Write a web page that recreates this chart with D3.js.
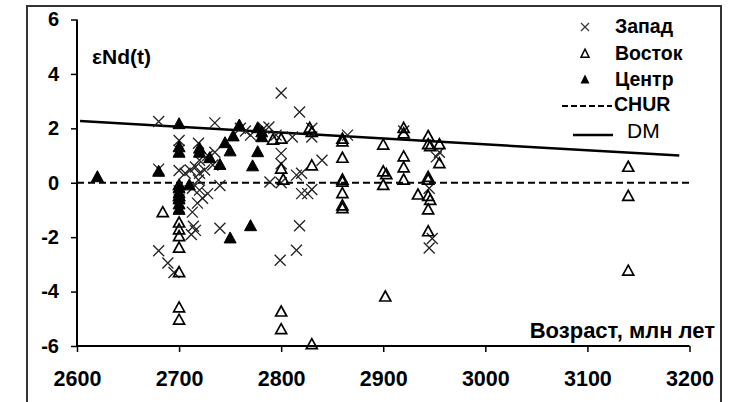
<!DOCTYPE html>
<html><head><meta charset="utf-8">
<script src="https://cdn.jsdelivr.net/npm/d3@7"></script>
<style>
body{margin:0;background:#fff;}
text{font-family:"Liberation Sans",Arial,sans-serif;}
</style></head>
<body>
<svg id="chart" width="729" height="402"></svg>
<script>
// ---- data ----
const xTicks = [2600, 2700, 2800, 2900, 3000, 3100, 3200];
const yTicks = [-6, -4, -2, 0, 2, 4, 6];
const seriesNames = ["Запад", "Восток", "Центр"];
const lineNames = ["CHUR", "DM"];
const zapad = [
 [2680,2.25],[2680,0.5],[2680,-2.5],[2689,-2.95],[2695,-3.3],
 [2700,1.55],[2700,1.2],[2700,0.45],[2700,-0.3],[2700,-0.6],[2700,-0.9],
 [2706,0.35],[2711,0.47],[2713,-0.2],[2716,0.58],[2719,0.1],[2719,1.45],
 [2720,0.35],[2720,0.83],[2720,-0.27],[2723,-0.57],[2725,0.47],[2728,1.0],[2728,-0.4],
 [2733,0.65],[2735,1.12],[2735,2.2],[2740,-0.1],[2718,-0.75],[2713,-1.08],
 [2714,-1.6],[2716,-1.75],[2712,-1.9],[2740,-1.67],
 [2760,2.0],[2765,1.9],[2770,1.75],[2783,2.0],[2788,2.05],[2795,1.75],
 [2800,3.3],[2800,1.08],[2800,0.7],[2789,0.03],[2800,0.0],[2799,-2.85],
 [2811,1.68],[2815,0.28],[2820,0.35],[2815,-2.48],[2818,-1.58],[2818,2.6],
 [2820,-0.4],[2826,-0.4],[2830,-0.25],[2830,1.68],[2830,2.0],[2840,0.83],
 [2865,1.75],[2920,1.9],[2955,1.12],[2952,0.95],[2945,-0.2],[2945,-2.4],[2948,-2.05]
];
const vostok = [
 [2684,-1.1],[2700,-0.1],[2700,-0.5],[2700,-1.48],[2700,-1.73],[2700,-1.98],[2700,-2.4],
 [2700,-3.3],[2700,-4.6],[2700,-5.05],
 [2792,1.57],[2800,1.6],[2800,0.5],[2802,0.1],[2800,-4.75],[2800,-5.4],
 [2828,2.0],[2830,1.85],[2830,0.62],[2830,-5.95],
 [2860,1.6],[2860,1.5],[2860,0.9],[2860,0.1],[2860,0.02],[2860,-0.4],[2860,-0.85],[2860,-0.95],
 [2900,1.38],[2900,0.4],[2903,0.3],[2900,-0.1],[2902,-4.2],
 [2920,2.0],[2920,1.8],[2920,0.95],[2920,0.55],[2920,0.1],
 [2934,-0.45],
 [2944,1.7],[2944,1.4],[2946,1.33],[2944,0.2],[2944,0.1],[2944,-0.5],[2946,-0.65],[2944,-1.0],[2944,-1.8],
 [2955,1.4],[2955,0.7],
 [3140,0.57],[3140,-0.5],[3140,-3.25]
];
const centr = [
 [2620,0.2],[2680,0.4],[2700,2.15],[2700,1.3],[2700,1.1],
 [2700,-0.2],[2700,-0.4],[2700,-0.6],[2700,-0.8],[2700,-1.0],
 [2710,-0.1],[2720,1.25],[2720,1.1],[2730,0.9],[2740,0.65],[2745,1.45],[2750,1.15],
 [2753,1.7],[2759,2.1],[2750,-2.05],[2770,-1.6],[2772,0.6],[2777,1.12],
 [2777,2.0],[2781,1.85],[2781,1.67]
];
const churLine = [[2600,0],[3200,0]];
const dmLine = [[2603,2.27],[3190,1.0]];

// ---- layout ----
const svg = d3.select("#chart");
const x = d3.scaleLinear().domain([2600,3200]).range([77,689.5]);
const y = d3.scaleLinear().domain([-6,6]).range([346,19.5]);

// frame
svg.append("rect").attr("x",27).attr("y",6).attr("width",694).attr("height",400)
  .attr("fill","none").attr("stroke","#333").attr("stroke-width",2);

// axes
const yAxis = svg.append("g").attr("transform","translate(77,0)")
  .call(d3.axisLeft(y).tickValues(yTicks).tickSize(6).tickPadding(12).tickFormat(d=>String(d)));
const xAxis = svg.append("g").attr("transform","translate(0,346)")
  .call(d3.axisBottom(x).tickValues(xTicks).tickSize(6).tickPadding(19).tickFormat(d=>String(d)));
[yAxis,xAxis].forEach(g=>{
  g.select(".domain").attr("stroke","#000").attr("stroke-width",2);
  g.selectAll(".tick line").attr("stroke","#000").attr("stroke-width",1.5);
  g.selectAll("text").attr("fill","#000").style("font-weight","bold");
});
yAxis.selectAll("text").style("font-size","20px");
xAxis.selectAll("text").style("font-size","21.5px");
yAxis.select(".domain").attr("d","M0,"+y(6)+"V"+y(-6));
xAxis.select(".domain").attr("d","M"+x(2600)+",0H"+x(3200));

// lines
const line = d3.line().x(d=>x(d[0])).y(d=>y(d[1]));
svg.append("path").datum(churLine).attr("d",line).attr("fill","none")
  .attr("stroke","#000").attr("stroke-width",2).attr("stroke-dasharray","7,4");
svg.append("path").datum(dmLine).attr("d",line).attr("fill","none")
  .attr("stroke","#000").attr("stroke-width",2.5);

// markers
const crossPath = s => `M${-s},${-s}L${s},${s}M${-s},${s}L${s},${-s}`;
const triPath = (w,h) => `M0,${-h*0.6}L${w/2},${h*0.4}L${-w/2},${h*0.4}Z`;
svg.append("g").selectAll("path").data(zapad).join("path")
  .attr("transform",d=>`translate(${x(d[0])},${y(d[1])})`)
  .attr("d",crossPath(5.5)).attr("fill","none").attr("stroke","#222").attr("stroke-width",1.3);
svg.append("g").selectAll("path").data(vostok).join("path")
  .attr("transform",d=>`translate(${x(d[0])},${y(d[1])})`)
  .attr("d",triPath(11,10)).attr("fill","none").attr("stroke","#000").attr("stroke-width",1.7);
svg.append("g").selectAll("path").data(centr).join("path")
  .attr("transform",d=>`translate(${x(d[0])},${y(d[1])})`)
  .attr("d",triPath(12,11)).attr("fill","#000").attr("stroke","#000").attr("stroke-width",1);

// axis titles
svg.append("text").attr("x",92).attr("y",64).text("εNd(t)")
  .style("font-size","21px").style("font-weight","bold");
svg.append("text").attr("x",715).attr("y",338).attr("text-anchor","end").text("Возраст, млн лет")
  .style("font-size","22px").style("font-weight","bold");

// legend
const lg = svg.append("g");
const legY = [27, 54, 80];
lg.append("path").attr("transform",`translate(585,${legY[0]})`).attr("d",crossPath(4))
  .attr("fill","none").attr("stroke","#333").attr("stroke-width",1.2);
lg.append("path").attr("transform",`translate(585,${legY[1]})`).attr("d",triPath(8,8))
  .attr("fill","none").attr("stroke","#000").attr("stroke-width",1.5);
lg.append("path").attr("transform",`translate(585,${legY[2]})`).attr("d",triPath(9,9))
  .attr("fill","#000");
seriesNames.forEach((n,i)=>{
  lg.append("text").attr("x",615).attr("y",legY[i]+6).text(n)
    .style("font-size","19.5px").style("font-weight","bold");
});
lg.append("line").attr("x1",562).attr("x2",612).attr("y1",106).attr("y2",106)
  .attr("stroke","#000").attr("stroke-width",2).attr("stroke-dasharray","6,3");
lg.append("text").attr("x",614).attr("y",111).text(lineNames[0])
  .style("font-size","19.5px").style("font-weight","bold");
lg.append("line").attr("x1",573).attr("x2",613).attr("y1",135).attr("y2",135)
  .attr("stroke","#000").attr("stroke-width",2.5);
lg.append("text").attr("x",627).attr("y",138).text(lineNames[1])
  .style("font-size","21px");
</script>
</body></html>
